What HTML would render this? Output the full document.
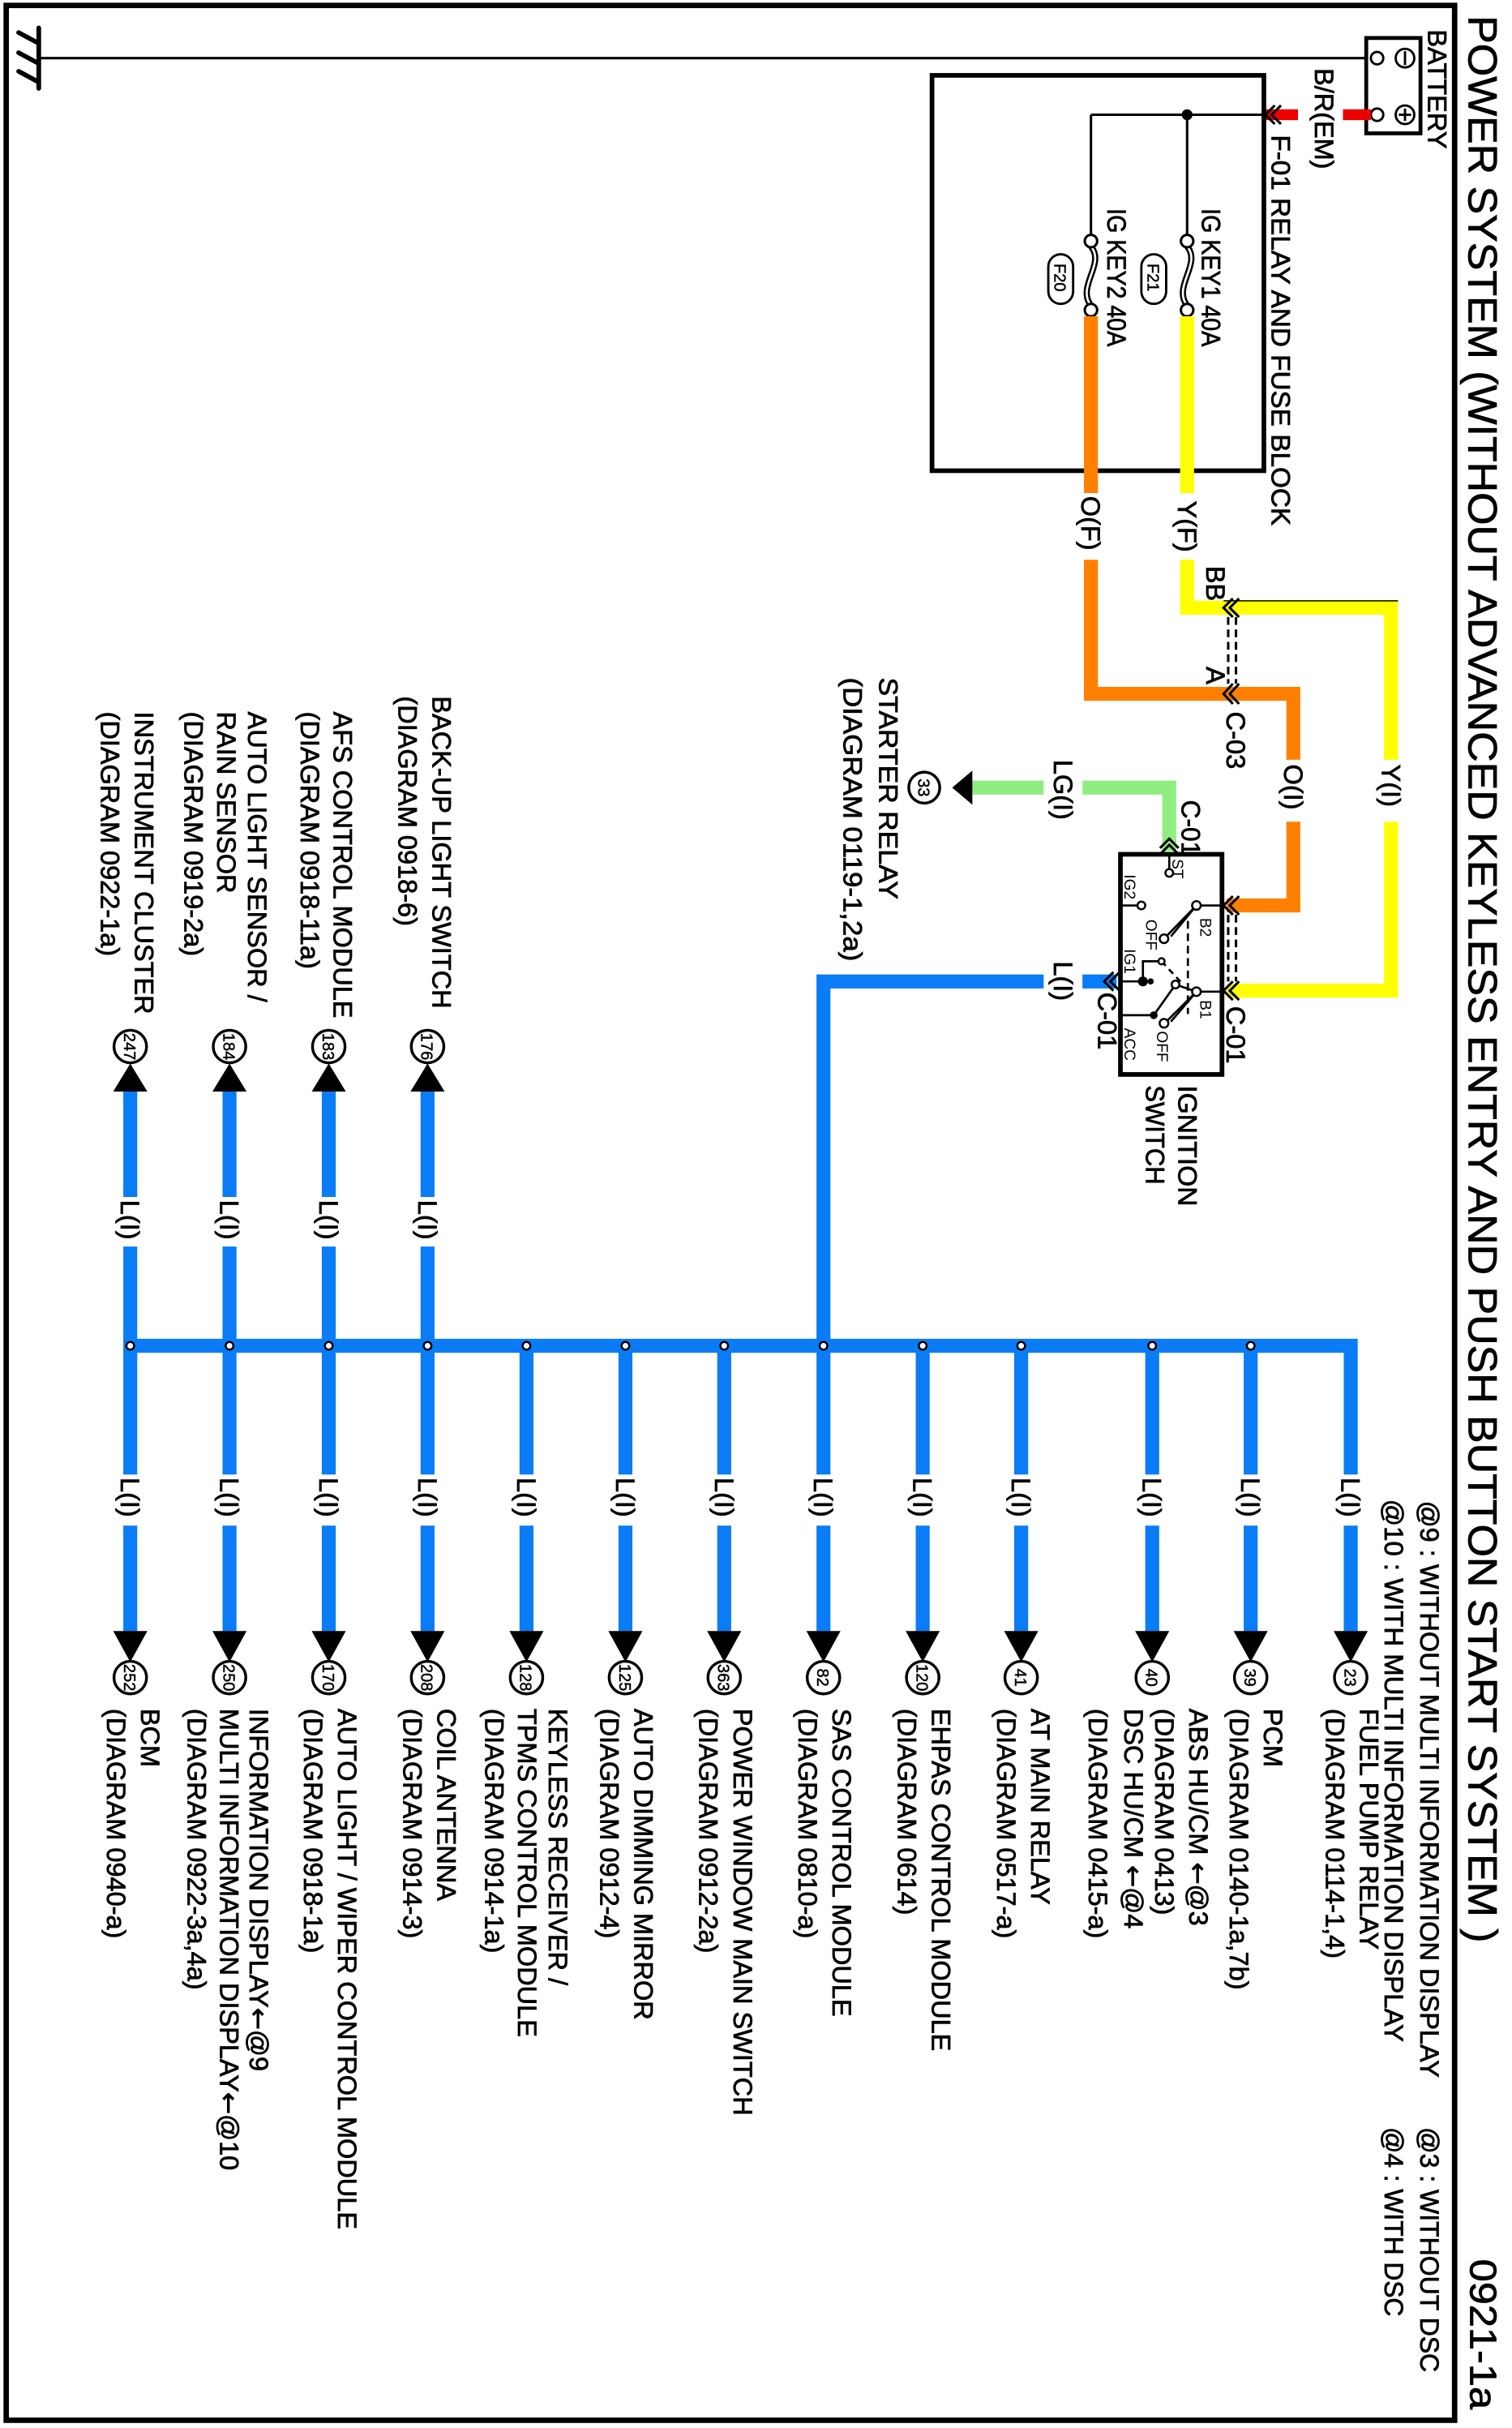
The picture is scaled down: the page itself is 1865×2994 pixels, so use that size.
<!DOCTYPE html>
<html><head><meta charset="utf-8"><style>
html,body{margin:0;padding:0;background:#fff;}
svg{display:block;}
text{font-family:"Liberation Sans",Arial,sans-serif;fill:#000;}
.t{font-size:17px;stroke:#000;stroke-width:0.4;}
.s{font-size:10px;}
.n{font-size:10.5px;stroke:#000;stroke-width:0.25;}
.ar{font-family:"DejaVu Sans",sans-serif;}
</style></head><body>
<svg width="1865" height="2994" viewBox="0 0 975 1566" preserveAspectRatio="none" xmlns="http://www.w3.org/2000/svg">
<rect x="0" y="0" width="975" height="1566" fill="#fff"/>
<rect x="4" y="3.5" width="934" height="1557.5" fill="none" stroke="#000" stroke-width="3.5"/>
<text transform="translate(947,10) rotate(90)" font-size="26" stroke="#000" stroke-width="0.4" textLength="1243" lengthAdjust="spacingAndGlyphs">POWER SYSTEM (WITHOUT ADVANCED KEYLESS ENTRY AND PUSH BUTTON START SYSTEM )</text>
<text transform="translate(948,1457) rotate(90)" font-size="24" stroke="#000" stroke-width="0.4" textLength="97" lengthAdjust="spacingAndGlyphs">0921-1a</text>
<text class="t" transform="translate(916,968) rotate(90)" textLength="372" lengthAdjust="spacingAndGlyphs">@9 : WITHOUT MULTI INFORMATION DISPLAY</text>
<text class="t" transform="translate(893,967) rotate(90)" textLength="350" lengthAdjust="spacingAndGlyphs">@10 : WITH MULTI INFORMATION DISPLAY</text>
<text class="t" transform="translate(916,1372) rotate(90)" textLength="158" lengthAdjust="spacingAndGlyphs">@3 : WITHOUT DSC</text>
<text class="t" transform="translate(893,1372) rotate(90)" textLength="122" lengthAdjust="spacingAndGlyphs">@4 : WITH DSC</text>

<line x1="25" y1="18" x2="25" y2="57" stroke="#000" stroke-width="3" stroke-linecap="round"/>
<g stroke="#000" stroke-width="3" stroke-linecap="round">
<line x1="25" y1="28" x2="12" y2="21"/><line x1="25" y1="41" x2="12" y2="34"/><line x1="25" y1="53" x2="12" y2="46"/>
</g>
<line x1="25" y1="37.5" x2="884" y2="37.5" stroke="#000" stroke-width="1.6"/>

<rect x="881" y="24.5" width="35" height="61.5" fill="#fff" stroke="#000" stroke-width="2.5"/>
<circle cx="888" cy="37.5" r="4" fill="#fff" stroke="#000" stroke-width="1.5"/>
<circle cx="888" cy="74" r="4" fill="#fff" stroke="#000" stroke-width="1.5"/>
<circle cx="906" cy="37.5" r="6" fill="none" stroke="#000" stroke-width="1.5"/>
<line x1="906" y1="33" x2="906" y2="42" stroke="#000" stroke-width="1.5"/>
<circle cx="906" cy="74" r="6" fill="none" stroke="#000" stroke-width="1.5"/>
<line x1="902" y1="74" x2="910" y2="74" stroke="#000" stroke-width="1.5"/>
<line x1="906" y1="70" x2="906" y2="78" stroke="#000" stroke-width="1.5"/>
<text class="t" transform="translate(921,19) rotate(90)" textLength="77" lengthAdjust="spacingAndGlyphs">BATTERY</text>

<line x1="815" y1="74" x2="837" y2="74" stroke="#e00" stroke-width="7"/>
<line x1="866" y1="74" x2="884" y2="74" stroke="#e00" stroke-width="7"/>
<text class="t" transform="translate(848,44) rotate(90)" textLength="65" lengthAdjust="spacingAndGlyphs">B/R(EM)</text>

<rect x="601" y="48.6" width="214" height="255" fill="none" stroke="#000" stroke-width="3"/>
<text class="t" transform="translate(820,87) rotate(90)" textLength="252" lengthAdjust="spacingAndGlyphs">F-01 RELAY AND FUSE BLOCK</text>
<polyline points="822,68 816,74 822,80" fill="none" stroke="#000" stroke-width="1.6"/>
<polyline points="826,68 820,74 826,80" fill="none" stroke="#000" stroke-width="1.6"/>
<line x1="703.5" y1="74" x2="816" y2="74" stroke="#000" stroke-width="1.6"/>
<circle cx="765.5" cy="74" r="3.5" fill="#000"/>
<line x1="765.5" y1="74" x2="765.5" y2="152" stroke="#000" stroke-width="1.6"/>
<line x1="703.5" y1="74" x2="703.5" y2="152" stroke="#000" stroke-width="1.6"/>
<g fill="none">
<path d="M765.5,159 C775,170 756,185 765.5,197" stroke="#000" stroke-width="4"/>
<path d="M765.5,159 C775,170 756,185 765.5,197" stroke="#fff" stroke-width="1.4"/>
<path d="M703.5,159 C713,170 694,185 703.5,197" stroke="#000" stroke-width="4"/>
<path d="M703.5,159 C713,170 694,185 703.5,197" stroke="#fff" stroke-width="1.4"/>
</g>
<circle cx="765.5" cy="155.5" r="4" fill="#fff" stroke="#000" stroke-width="1.6"/>
<circle cx="765.5" cy="200" r="4" fill="#fff" stroke="#000" stroke-width="1.6"/>
<circle cx="703.5" cy="155.5" r="4" fill="#fff" stroke="#000" stroke-width="1.6"/>
<circle cx="703.5" cy="200" r="4" fill="#fff" stroke="#000" stroke-width="1.6"/>
<text class="t" transform="translate(775,134.5) rotate(90)" textLength="89" lengthAdjust="spacingAndGlyphs">IG KEY1 40A</text>
<text class="t" transform="translate(714,134.5) rotate(90)" textLength="89" lengthAdjust="spacingAndGlyphs">IG KEY2 40A</text>
<rect x="736" y="164" width="16" height="32" rx="8" fill="#fff" stroke="#000" stroke-width="1.5"/>
<text class="n" transform="translate(740,170) rotate(90)" font-size="12">F21</text>
<rect x="676" y="164" width="16" height="32" rx="8" fill="#fff" stroke="#000" stroke-width="1.5"/>
<text class="n" transform="translate(680,170) rotate(90)" font-size="12">F20</text>

<g fill="none" stroke="#ffff00" stroke-width="9" stroke-linejoin="miter">
<line x1="765.5" y1="204" x2="765.5" y2="318"/>
<polyline points="765.5,361 765.5,392 897,392 897,490"/>
<polyline points="897,530 897,639 791,639"/>
</g>
<line x1="789" y1="387.5" x2="901.5" y2="387.5" stroke="#000" stroke-width="0.8"/>
<text class="t" transform="translate(759.5,323) rotate(90)">Y(F)</text>
<text class="t" transform="translate(891,493) rotate(90)">Y(I)</text>
<text class="t" transform="translate(778,365) rotate(90)">BB</text>

<g fill="none" stroke="#ff8000" stroke-width="9">
<line x1="703.5" y1="204" x2="703.5" y2="318"/>
<polyline points="703.5,361 703.5,447.5 834,447.5 834,490"/>
<polyline points="834,530 834,584 791,584"/>
</g>
<text class="t" transform="translate(697.5,320) rotate(90)">O(F)</text>
<text class="t" transform="translate(828,493) rotate(90)">O(I)</text>
<text class="t" transform="translate(778,430) rotate(90)">A</text>
<text class="t" transform="translate(791,459) rotate(90)" textLength="37" lengthAdjust="spacingAndGlyphs">C-03</text>

<g fill="none" stroke="#000" stroke-width="1.6">
<polyline points="795,386 789,392 795,398"/><polyline points="799,386 793,392 799,398"/>
<polyline points="795,441 789,447.5 795,454"/><polyline points="799,441 793,447.5 799,454"/>
<line x1="792" y1="398" x2="792" y2="441" stroke-dasharray="5,3"/>
<line x1="797" y1="398" x2="797" y2="441" stroke-dasharray="5,3"/>
<polyline points="795,578 789,584 795,590"/><polyline points="799,578 793,584 799,590"/>
<polyline points="795,633 789,639 795,645"/><polyline points="799,633 793,639 799,645"/>
<line x1="792" y1="590" x2="792" y2="633" stroke-dasharray="5,3"/>
<line x1="797" y1="590" x2="797" y2="633" stroke-dasharray="5,3"/>
</g>
<text class="t" transform="translate(791,649) rotate(90)" textLength="37" lengthAdjust="spacingAndGlyphs">C-01</text>

<g fill="none" stroke="#90ee80" stroke-width="9">
<polyline points="754,549 754,508 698,508"/>
<line x1="673" y1="508" x2="626" y2="508"/>
</g>
<polygon points="627,497 627,519 614,508" fill="#000"/>
<circle cx="596" cy="508" r="10" fill="#fff" stroke="#000" stroke-width="1.8"/>
<text class="n" transform="translate(596,508) rotate(90)" text-anchor="middle" dy="4">33</text>
<text class="t" transform="translate(679.5,490) rotate(90)">LG(I)</text>
<g fill="none" stroke="#000" stroke-width="1.6">
<polyline points="748,547 754,541 760,547"/><polyline points="748,551 754,545 760,551"/>
</g>
<text class="t" transform="translate(762,516) rotate(90)" textLength="36" lengthAdjust="spacingAndGlyphs">C-01</text>
<text class="t" transform="translate(567,437) rotate(90)" textLength="143" lengthAdjust="spacingAndGlyphs">STARTER RELAY</text>
<text class="t" transform="translate(544,437) rotate(90)" textLength="183" lengthAdjust="spacingAndGlyphs">(DIAGRAM 0119-1,2a)</text>

<rect x="722.5" y="551" width="65.5" height="142" fill="#fff" stroke="#000" stroke-width="3"/>
<g stroke="#000" stroke-width="1.4" fill="none">
<line x1="754" y1="551" x2="754" y2="561"/>
<line x1="722.5" y1="584" x2="734" y2="584"/>
<line x1="774" y1="584" x2="788" y2="584"/>
<line x1="771.5" y1="584" x2="751" y2="605"/>
<line x1="771.5" y1="584" x2="755" y2="604"/>
<line x1="722.5" y1="633" x2="737" y2="633"/>
<polyline points="737,633 737,620 749,620"/>
<line x1="749" y1="620" x2="762" y2="634" stroke-dasharray="4,3"/>
<line x1="766" y1="594" x2="766" y2="654" stroke-dasharray="5,3"/>
<line x1="774" y1="639.6" x2="788" y2="639.6"/>
<line x1="722.5" y1="654.8" x2="744" y2="654.8"/>
<line x1="744" y1="654.8" x2="758" y2="635"/>
<line x1="771.5" y1="639.6" x2="751" y2="660"/>
<line x1="771.5" y1="639.6" x2="755" y2="659"/>
<line x1="758" y1="635" x2="771.5" y2="639.6"/>
</g>
<g fill="#fff" stroke="#000" stroke-width="1.3">
<circle cx="754" cy="563" r="2.5"/>
<circle cx="736" cy="584" r="2.5"/>
<circle cx="771.5" cy="584" r="2.8"/>
<circle cx="750.6" cy="605.5" r="2.8"/>
<circle cx="771.5" cy="639.6" r="2.8"/>
<circle cx="750.6" cy="660" r="2.8"/>
<circle cx="758" cy="635" r="2.5"/>
<circle cx="749" cy="620" r="2"/>
</g>
<circle cx="737" cy="633" r="3.2" fill="#000"/>
<circle cx="742" cy="633" r="2" fill="#000"/>
<circle cx="744" cy="654.8" r="2.5" fill="#000"/>
<text class="s" transform="translate(756,554) rotate(90)">ST</text>
<text class="s" transform="translate(725,564) rotate(90)">IG2</text>
<text class="s" transform="translate(774,592) rotate(90)">B2</text>
<text class="s" transform="translate(739,593) rotate(90)">OFF</text>
<text class="s" transform="translate(725,612) rotate(90)">IG1</text>
<text class="s" transform="translate(774,645) rotate(90)">B1</text>
<text class="s" transform="translate(725,663) rotate(90)">ACC</text>
<text class="s" transform="translate(746,665) rotate(90)">OFF</text>
<text class="t" transform="translate(760,700) rotate(90)" textLength="78" lengthAdjust="spacingAndGlyphs">IGNITION</text>
<text class="t" transform="translate(739,700) rotate(90)" textLength="64" lengthAdjust="spacingAndGlyphs">SWITCH</text>

<g fill="none" stroke="#0a7cf5" stroke-width="9">
<line x1="720" y1="633" x2="698" y2="633"/>
<polyline points="673,633 531,633 531,868"/>
<polyline points="84,868 871,868 871,951"/>
</g>
<g fill="none" stroke="#000" stroke-width="1.6">
<polyline points="718,627 712,633 718,639"/><polyline points="722,627 716,633 722,639"/>
</g>
<text class="t" transform="translate(679.5,620) rotate(90)">L(I)</text>
<text class="t" transform="translate(708,640) rotate(90)" textLength="37" lengthAdjust="spacingAndGlyphs">C-01</text>

<g fill="none" stroke="#0a7cf5" stroke-width="9">
<line x1="84" y1="868" x2="84" y2="951"/><line x1="84" y1="984" x2="84" y2="1054"/>
<line x1="148" y1="868" x2="148" y2="951"/><line x1="148" y1="984" x2="148" y2="1054"/>
<line x1="212" y1="868" x2="212" y2="951"/><line x1="212" y1="984" x2="212" y2="1054"/>
<line x1="275.7" y1="868" x2="275.7" y2="951"/><line x1="275.7" y1="984" x2="275.7" y2="1054"/>
<line x1="339.5" y1="868" x2="339.5" y2="951"/><line x1="339.5" y1="984" x2="339.5" y2="1054"/>
<line x1="403.3" y1="868" x2="403.3" y2="951"/><line x1="403.3" y1="984" x2="403.3" y2="1054"/>
<line x1="467" y1="868" x2="467" y2="951"/><line x1="467" y1="984" x2="467" y2="1054"/>
<line x1="531" y1="868" x2="531" y2="951"/><line x1="531" y1="984" x2="531" y2="1054"/>
<line x1="595" y1="868" x2="595" y2="951"/><line x1="595" y1="984" x2="595" y2="1054"/>
<line x1="658.5" y1="868" x2="658.5" y2="951"/><line x1="658.5" y1="984" x2="658.5" y2="1054"/>
<line x1="743" y1="868" x2="743" y2="951"/><line x1="743" y1="984" x2="743" y2="1054"/>
<line x1="806.5" y1="868" x2="806.5" y2="951"/><line x1="806.5" y1="984" x2="806.5" y2="1054"/>
<line x1="871" y1="984" x2="871" y2="1054"/>
<line x1="84" y1="868" x2="84" y2="804"/><line x1="84" y1="772" x2="84" y2="702"/>
<line x1="148" y1="868" x2="148" y2="804"/><line x1="148" y1="772" x2="148" y2="702"/>
<line x1="212" y1="868" x2="212" y2="804"/><line x1="212" y1="772" x2="212" y2="702"/>
<line x1="275.7" y1="868" x2="275.7" y2="804"/><line x1="275.7" y1="772" x2="275.7" y2="702"/>
</g>
<g fill="#000">
<polygon points="73,1052 95,1052 84,1072"/><polygon points="137,1052 159,1052 148,1072"/>
<polygon points="201,1052 223,1052 212,1072"/><polygon points="264.7,1052 286.7,1052 275.7,1072"/>
<polygon points="328.5,1052 350.5,1052 339.5,1072"/><polygon points="392.3,1052 414.3,1052 403.3,1072"/>
<polygon points="456,1052 478,1052 467,1072"/><polygon points="520,1052 542,1052 531,1072"/>
<polygon points="584,1052 606,1052 595,1072"/><polygon points="647.5,1052 669.5,1052 658.5,1072"/>
<polygon points="732,1052 754,1052 743,1072"/><polygon points="795.5,1052 817.5,1052 806.5,1072"/>
<polygon points="860,1052 882,1052 871,1072"/>
<polygon points="73,704 95,704 84,686"/><polygon points="137,704 159,704 148,686"/>
<polygon points="201,704 223,704 212,686"/><polygon points="264.7,704 286.7,704 275.7,686"/>
</g>
<g fill="#fff" stroke="#000" stroke-width="1.3">
<circle cx="84" cy="868" r="2.5"/><circle cx="148" cy="868" r="2.5"/><circle cx="212" cy="868" r="2.5"/>
<circle cx="275.7" cy="868" r="2.5"/><circle cx="339.5" cy="868" r="2.5"/><circle cx="403.3" cy="868" r="2.5"/>
<circle cx="467" cy="868" r="2.5"/><circle cx="531" cy="868" r="2.5"/><circle cx="595" cy="868" r="2.5"/>
<circle cx="658.5" cy="868" r="2.5"/><circle cx="743" cy="868" r="2.5"/><circle cx="806.5" cy="868" r="2.5"/>
</g>
<text class="t" transform="translate(78,953) rotate(90)">L(I)</text>
<text class="t" transform="translate(142,953) rotate(90)">L(I)</text>
<text class="t" transform="translate(206,953) rotate(90)">L(I)</text>
<text class="t" transform="translate(269.7,953) rotate(90)">L(I)</text>
<text class="t" transform="translate(333.5,953) rotate(90)">L(I)</text>
<text class="t" transform="translate(397.3,953) rotate(90)">L(I)</text>
<text class="t" transform="translate(461,953) rotate(90)">L(I)</text>
<text class="t" transform="translate(525,953) rotate(90)">L(I)</text>
<text class="t" transform="translate(589,953) rotate(90)">L(I)</text>
<text class="t" transform="translate(652.5,953) rotate(90)">L(I)</text>
<text class="t" transform="translate(737,953) rotate(90)">L(I)</text>
<text class="t" transform="translate(800.5,953) rotate(90)">L(I)</text>
<text class="t" transform="translate(865,953) rotate(90)">L(I)</text>
<text class="t" transform="translate(78,774) rotate(90)">L(I)</text>
<text class="t" transform="translate(142,774) rotate(90)">L(I)</text>
<text class="t" transform="translate(206,774) rotate(90)">L(I)</text>
<text class="t" transform="translate(269.7,774) rotate(90)">L(I)</text>
<g fill="#fff" stroke="#000" stroke-width="1.8">
<circle cx="84" cy="1082" r="10.5"/><circle cx="148" cy="1082" r="10.5"/><circle cx="212" cy="1082" r="10.5"/>
<circle cx="275.7" cy="1082" r="10.5"/><circle cx="339.5" cy="1082" r="10.5"/><circle cx="403.3" cy="1082" r="10.5"/>
<circle cx="467" cy="1082" r="10.5"/><circle cx="531" cy="1082" r="10.5"/><circle cx="595" cy="1082" r="10.5"/>
<circle cx="658.5" cy="1082" r="10.5"/><circle cx="743" cy="1082" r="10.5"/><circle cx="806.5" cy="1082" r="10.5"/>
<circle cx="871" cy="1082" r="10.5"/>
<circle cx="84" cy="675" r="10.5"/><circle cx="148" cy="675" r="10.5"/><circle cx="212" cy="675" r="10.5"/><circle cx="275.7" cy="675" r="10.5"/>
</g>
<text class="n" transform="translate(84,1082) rotate(90)" text-anchor="middle" dy="4">252</text>
<text class="n" transform="translate(148,1082) rotate(90)" text-anchor="middle" dy="4">250</text>
<text class="n" transform="translate(212,1082) rotate(90)" text-anchor="middle" dy="4">170</text>
<text class="n" transform="translate(275.7,1082) rotate(90)" text-anchor="middle" dy="4">208</text>
<text class="n" transform="translate(339.5,1082) rotate(90)" text-anchor="middle" dy="4">128</text>
<text class="n" transform="translate(403.3,1082) rotate(90)" text-anchor="middle" dy="4">125</text>
<text class="n" transform="translate(467,1082) rotate(90)" text-anchor="middle" dy="4">363</text>
<text class="n" transform="translate(531,1082) rotate(90)" text-anchor="middle" dy="4">82</text>
<text class="n" transform="translate(595,1082) rotate(90)" text-anchor="middle" dy="4">120</text>
<text class="n" transform="translate(658.5,1082) rotate(90)" text-anchor="middle" dy="4">41</text>
<text class="n" transform="translate(743,1082) rotate(90)" text-anchor="middle" dy="4">40</text>
<text class="n" transform="translate(806.5,1082) rotate(90)" text-anchor="middle" dy="4">39</text>
<text class="n" transform="translate(871,1082) rotate(90)" text-anchor="middle" dy="4">23</text>
<text class="n" transform="translate(84,675) rotate(90)" text-anchor="middle" dy="4">247</text>
<text class="n" transform="translate(148,675) rotate(90)" text-anchor="middle" dy="4">184</text>
<text class="n" transform="translate(212,675) rotate(90)" text-anchor="middle" dy="4">183</text>
<text class="n" transform="translate(275.7,675) rotate(90)" text-anchor="middle" dy="4">176</text>

<text class="t" transform="translate(877,1102) rotate(90)">FUEL PUMP RELAY</text>
<text class="t" transform="translate(855,1102) rotate(90)">(DIAGRAM 0114-1,4)</text>
<text class="t" transform="translate(815,1102) rotate(90)">PCM</text>
<text class="t" transform="translate(793,1102) rotate(90)">(DIAGRAM 0140-1a,7b)</text>
<text class="t" transform="translate(767,1102) rotate(90)">ABS HU/CM <tspan class="ar">←</tspan>@3</text>
<text class="t" transform="translate(745,1102) rotate(90)">(DIAGRAM 0413)</text>
<text class="t" transform="translate(725,1102) rotate(90)">DSC HU/CM <tspan class="ar">←</tspan>@4</text>
<text class="t" transform="translate(702,1102) rotate(90)">(DIAGRAM 0415-a)</text>
<text class="t" transform="translate(665,1102) rotate(90)">AT MAIN RELAY</text>
<text class="t" transform="translate(643,1102) rotate(90)">(DIAGRAM 0517-a)</text>
<text class="t" transform="translate(601,1102) rotate(90)">EHPAS CONTROL MODULE</text>
<text class="t" transform="translate(579,1102) rotate(90)">(DIAGRAM 0614)</text>
<text class="t" transform="translate(537,1102) rotate(90)">SAS CONTROL MODULE</text>
<text class="t" transform="translate(515,1102) rotate(90)">(DIAGRAM 0810-a)</text>
<text class="t" transform="translate(473,1102) rotate(90)">POWER WINDOW MAIN SWITCH</text>
<text class="t" transform="translate(451,1102) rotate(90)">(DIAGRAM 0912-2a)</text>
<text class="t" transform="translate(409,1102) rotate(90)">AUTO DIMMING MIRROR</text>
<text class="t" transform="translate(387,1102) rotate(90)">(DIAGRAM 0912-4)</text>
<text class="t" transform="translate(354,1102) rotate(90)">KEYLESS RECEIVER /</text>
<text class="t" transform="translate(334,1102) rotate(90)">TPMS CONTROL MODULE</text>
<text class="t" transform="translate(313,1102) rotate(90)">(DIAGRAM 0914-1a)</text>
<text class="t" transform="translate(282,1102) rotate(90)">COIL ANTENNA</text>
<text class="t" transform="translate(260,1102) rotate(90)">(DIAGRAM 0914-3)</text>
<text class="t" transform="translate(218,1102) rotate(90)">AUTO LIGHT / WIPER CONTROL MODULE</text>
<text class="t" transform="translate(196,1102) rotate(90)">(DIAGRAM 0918-1a)</text>
<text class="t" transform="translate(161,1102) rotate(90)">INFORMATION DISPLAY<tspan class="ar">←</tspan>@9</text>
<text class="t" transform="translate(142,1102) rotate(90)">MULTI INFORMATION DISPLAY<tspan class="ar">←</tspan>@10</text>
<text class="t" transform="translate(121,1102) rotate(90)">(DIAGRAM 0922-3a,4a)</text>
<text class="t" transform="translate(91,1102) rotate(90)">BCM</text>
<text class="t" transform="translate(69,1102) rotate(90)">(DIAGRAM 0940-a)</text>

<text class="t" transform="translate(279,449) rotate(90)">BACK-UP LIGHT SWITCH</text>
<text class="t" transform="translate(257,449) rotate(90)">(DIAGRAM 0918-6)</text>
<text class="t" transform="translate(215,459) rotate(90)">AFS CONTROL MODULE</text>
<text class="t" transform="translate(194,459) rotate(90)">(DIAGRAM 0918-11a)</text>
<text class="t" transform="translate(160,459) rotate(90)">AUTO LIGHT SENSOR /</text>
<text class="t" transform="translate(140,459) rotate(90)">RAIN SENSOR</text>
<text class="t" transform="translate(119,459) rotate(90)">(DIAGRAM 0919-2a)</text>
<text class="t" transform="translate(87,459) rotate(90)">INSTRUMENT CLUSTER</text>
<text class="t" transform="translate(65,459) rotate(90)">(DIAGRAM 0922-1a)</text>
</svg>
</body></html>
